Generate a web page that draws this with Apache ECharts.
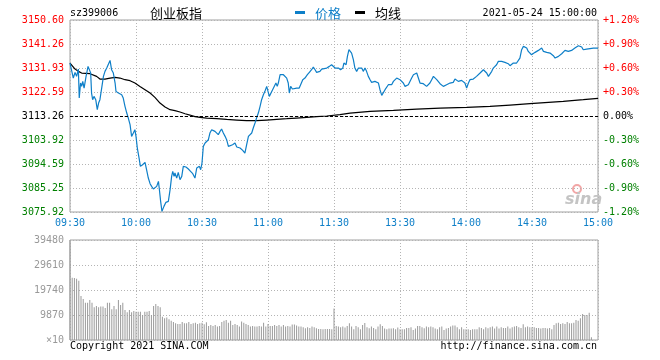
<!DOCTYPE html>
<html><head><meta charset="utf-8">
<script src="https://cdn.jsdelivr.net/npm/echarts@6/dist/echarts.min.js"></script>
<style>html,body{margin:0;padding:0;background:#fff}#c{width:660px;height:360px}</style>
</head><body><div id="c"></div>
<script>
const timeLabels = ['09:30','10:00','10:30','11:00','11:30','13:30','14:00','14:30','15:00'];
const priceTickLabels = ['3075.92','3085.25','3094.59','3103.92','3113.26','3122.59','3131.93','3141.26','3150.60'];
const pctTickLabels = ['-1.20%','-0.90%','-0.60%','-0.30%','0.00%','+0.30%','+0.60%','+0.90%','+1.20%'];
const volTickLabels = ['\u00d710','9870','19740','29610','39480'];
const prevClose = 3113.26;
const priceMin = 3075.92, priceMax = 3150.60, priceStep = 9.335;
const volMax = 39480, volStep = 9870;

// minutes since 09:30 (lunch break removed) and index price
const priceMinutes = [0,1.5,2.3,3.0,3.8,4.2,4.8,5.3,5.8,6.4,7.3,8.2,8.8,9.4,9.8,10.3,10.9,11.7,12.4,13.0,13.6,14.4,15.2,15.9,16.7,17.4,18.2,18.9,19.7,20.5,20.9,22.0,23.5,24.2,25.0,25.8,26.5,27.3,28.0,28.8,29.5,30.0,30.6,31.4,32.0,33.0,34.1,34.8,35.6,36.4,37.1,37.9,38.6,39.4,40.2,40.6,41.2,41.8,42.7,43.6,44.7,45.5,46.2,46.7,47.3,47.7,48.5,49.2,50.0,50.8,51.5,52.7,53.8,54.8,55.8,56.8,57.6,58.8,59.4,60.0,60.6,61.4,62.1,62.9,63.6,64.4,65.2,65.9,66.7,67.4,68.2,68.9,69.7,70.5,71.2,72.0,72.7,73.9,75.0,75.8,77.3,78.5,79.5,80.3,81.1,81.8,82.6,83.3,84.1,84.8,85.6,86.4,87.1,87.9,88.6,89.4,90.2,90.6,91.2,92.1,92.7,93.6,94.2,94.7,95.5,96.2,97.0,97.7,98.5,99.2,99.7,100.3,101.1,102.0,103.0,104.2,104.8,105.8,106.8,107.9,108.8,109.8,110.6,111.4,112.1,112.9,113.6,114.4,115.2,116.7,117.9,118.9,119.7,120.5,121.2,122.0,123.0,124.0,124.5,125.5,126.1,126.8,127.3,128.0,128.8,129.5,130.3,131.1,131.8,132.6,133.3,134.1,134.8,135.6,136.4,137.1,137.9,138.6,139.4,140.2,140.9,141.7,142.4,143.2,143.9,144.7,145.5,146.2,147.0,147.7,148.5,149.2,150.0,150.8,151.5,152.3,153.0,153.8,154.5,155.3,156.1,156.8,157.6,158.3,159.1,159.8,160.6,161.4,162.1,162.9,163.6,164.4,165.2,165.9,166.7,167.4,168.2,168.9,169.7,170.5,171.2,172.0,172.7,173.5,174.2,175.0,175.8,176.5,177.3,178.0,178.8,179.5,180.3,181.1,181.8,182.6,183.3,184.1,184.8,185.6,186.4,187.1,187.9,188.6,189.4,190.2,190.9,191.7,192.4,193.2,193.9,194.7,195.5,196.2,197.0,197.7,198.5,199.2,200.0,200.8,201.5,202.3,203.0,203.8,204.5,205.3,206.1,206.8,207.6,208.3,209.1,209.8,210.6,211.4,212.1,212.9,213.6,214.4,215.2,215.9,216.7,217.4,218.2,218.9,219.7,220.5,221.2,222.0,222.7,223.5,224.2,225.0,225.8,226.5,227.3,228.0,228.8,229.5,230.3,231.1,231.8,232.6,233.3,234.1,234.8,235.6,237.9,240.0];
const prices = [3133.86,3128.02,3130.23,3128.67,3131.52,3120.25,3126.08,3124.78,3126.73,3124.13,3128.67,3132.56,3132.56,3129.97,3122.19,3119.60,3120.89,3119.60,3115.71,3118.30,3119.60,3124.13,3128.67,3130.62,3131.91,3132.56,3134.89,3131.26,3129.97,3126.08,3122.84,3122.19,3121.54,3120.25,3117.01,3114.41,3112.47,3109.88,3105.34,3106.63,3107.93,3105.34,3100.80,3096.91,3093.67,3094.32,3095.23,3092.38,3089.13,3086.93,3085.89,3084.86,3084.60,3085.89,3087.84,3084.86,3080.06,3076.17,3078.11,3079.67,3080.06,3084.60,3089.78,3091.73,3089.78,3091.08,3089.13,3091.34,3088.49,3089.78,3093.67,3093.41,3092.64,3091.73,3090.82,3089.13,3093.02,3093.67,3092.38,3094.97,3101.45,3102.75,3102.10,3104.04,3106.63,3107.93,3108.19,3107.28,3106.63,3105.99,3107.28,3108.19,3106.63,3105.34,3104.04,3101.45,3102.10,3102.10,3102.75,3101.19,3100.80,3099.89,3098.86,3102.10,3105.34,3105.99,3106.63,3108.58,3110.52,3112.47,3114.41,3117.01,3119.60,3121.54,3122.84,3124.78,3125.43,3120.89,3121.54,3123.49,3122.84,3126.08,3124.78,3126.08,3129.32,3129.32,3129.32,3128.67,3128.02,3126.08,3122.19,3124.78,3123.75,3124.52,3124.13,3124.13,3124.78,3127.38,3128.02,3129.32,3130.23,3131.26,3132.30,3131.26,3130.23,3129.97,3130.62,3131.52,3131.91,3131.91,3132.56,3133.21,3132.56,3131.91,3132.56,3131.91,3131.26,3131.91,3133.86,3133.21,3136.45,3139.04,3139.69,3137.75,3135.15,3131.91,3130.62,3131.91,3132.56,3131.91,3130.62,3131.91,3130.62,3128.67,3127.38,3126.34,3126.08,3126.73,3127.38,3126.08,3123.49,3121.28,3120.89,3123.49,3124.13,3125.43,3126.08,3125.43,3126.73,3126.73,3128.02,3127.38,3127.38,3126.73,3126.08,3124.78,3125.43,3125.43,3126.08,3128.02,3129.32,3129.32,3129.97,3129.97,3126.08,3125.69,3125.82,3125.43,3124.78,3125.43,3126.08,3127.38,3128.67,3128.28,3127.38,3126.73,3125.82,3125.43,3124.78,3124.13,3125.43,3126.08,3126.08,3125.69,3126.34,3127.63,3127.38,3126.73,3126.73,3127.12,3126.73,3126.08,3124.13,3126.08,3127.38,3127.63,3127.63,3128.02,3128.67,3129.32,3129.97,3130.62,3131.26,3131.52,3129.97,3128.67,3129.32,3130.62,3131.91,3132.30,3133.21,3134.51,3134.89,3134.51,3134.51,3134.12,3133.86,3133.60,3132.82,3133.21,3133.86,3134.12,3133.86,3134.89,3135.80,3139.04,3140.34,3140.60,3139.69,3138.39,3139.04,3137.10,3137.75,3138.01,3138.39,3138.78,3139.04,3139.69,3138.39,3138.01,3138.01,3138.01,3137.75,3137.49,3136.71,3135.80,3136.45,3136.45,3136.71,3137.49,3137.75,3138.78,3138.78,3138.39,3138.78,3138.78,3139.30,3139.69,3140.08,3140.60,3140.99,3140.08,3139.04,3138.78,3139.30,3139.69,3139.69,3139.69];

const avgMinutes = [0,2.3,3.8,5.3,9.1,12.1,13.6,15.9,18.2,20.5,22.7,25.0,27.3,29.5,31.8,34.1,36.4,38.6,40.9,43.2,45.5,47.7,50.0,52.3,54.5,56.8,59.1,62.1,66.7,71.2,75.8,80.3,84.8,89.4,93.9,98.5,103.0,107.6,112.1,116.7,122.7,127.3,136.4,147.0,157.6,168.2,180.3,190.9,200.0,209.1,224.2,233.3,240.0];
const avgPrices = [3133.86,3131.52,3130.62,3129.97,3129.71,3128.67,3127.63,3127.63,3128.02,3128.28,3128.02,3127.38,3126.99,3126.08,3124.78,3123.49,3122.19,3120.50,3118.30,3116.75,3115.71,3115.32,3114.80,3114.15,3113.63,3112.99,3112.73,3112.47,3112.21,3111.95,3111.69,3111.43,3111.43,3111.69,3111.95,3112.21,3112.47,3112.73,3112.99,3113.25,3113.76,3114.41,3115.06,3115.45,3115.97,3116.36,3116.62,3117.01,3117.52,3118.04,3118.95,3119.60,3120.12];

// per-minute volume, 241 bars (09:30 .. 15:00)
const volumes = [39480,24600,24500,24200,23400,17400,16200,14700,14700,15800,14700,
12900,13400,12900,13200,13200,12600,
14700,14700,12100,13400,12100,15800,13800,14700,
11800,11000,11800,11000,11400,11200,11200,11200,9900,11200,11200,11400,9900,
13400,14200,13400,12900,
9200,8600,8900,8200,
7600,7100,6600,6300,6300,7100,6600,6600,7100,6300,
6600,6800,6300,6600,6800,6200,7000,5500,5900,5500,
5900,5300,5500,7100,7600,7900,6800,7600,5900,6300,
5900,5300,7300,6800,6300,5900,5300,5500,5300,5300,
5500,5300,6800,5300,6300,5500,5500,5900,5500,5900,
5300,5900,5300,5500,5300,6100,6100,5700,5300,5300,
5000,4600,5000,4700,5300,5000,4600,4300,4300,4200,
4300,4300,4300,4200,12400,
5500,5300,5000,5300,4900,5500,6600,
5300,4200,5500,5000,4200,5900,6700,
5000,4600,5300,4700,4200,5300,6200,5500,
4500,4200,4500,4500,4600,4200,4900,4200,
4200,4200,4700,4700,5000,3900,4500,5500,5500,
5000,4600,5300,5000,
5300,5000,4500,4200,5000,5300,
3900,4500,4700,5300,5700,5700,
5000,4200,5000,4200,4200,
4200,3900,4200,4200,4200,5000,4700,4200,5000,
4600,5000,5300,4500,5300,4500,5000,4700,4700,5300,4500,
5000,5300,5500,5000,4700,6200,5000,5300,5000,
5000,5000,4700,4700,4500,4700,4700,4500,4700,4200,
5900,6600,6800,6300,6600,
6300,7100,6600,6600,6800,
7900,7600,8600,10300,9900,9900,10800,1100,0,0,0];

const MONO = 'DejaVu Sans Mono';
const CJK = 'Noto Sans CJK SC';
const BLUE = '#0e7fc8';
const RED = '#ff0000';
const GREEN = '#008000';
const GRIDC = '#b4b4b4';

const pricePts = priceMinutes.map((m, i) => [m, prices[i]]);
const avgPts = avgMinutes.map((m, i) => [m, avgPrices[i]]);
const volPts = volumes.map((v, i) => [i, v]);

const tickIdx = v => Math.round((parseFloat(v) - priceMin) / priceStep);
const tickColor = v => { const k = tickIdx(v); return k > 4 ? RED : (k < 4 ? GREEN : '#000'); };

function txt(x, y, text, font, fill, align) {
  return { type: 'text', x: x, y: y, silent: true,
    style: { text: text, font: font, fill: fill, align: align || 'left', textAlign: align || 'left',
      verticalAlign: 'middle', textVerticalAlign: 'middle' } };
}

const chart = echarts.init(document.getElementById('c'), null, { renderer: 'canvas' });
chart.setOption({
  animation: false,
  backgroundColor: '#fff',
  grid: [
    { left: 70, top: 20, width: 528, height: 192, show: true, borderColor: '#a0a0a0', borderWidth: 1, backgroundColor: 'transparent' },
    { left: 70, top: 240, width: 528, height: 100, show: true, borderColor: '#a0a0a0', borderWidth: 1, backgroundColor: 'transparent' }
  ],
  xAxis: [
    { type: 'value', gridIndex: 0, min: 0, max: 240, interval: 30,
      axisLine: { show: false }, axisTick: { show: false },
      axisLabel: { margin: 6, color: BLUE, fontFamily: MONO, fontSize: 10,
        formatter: v => timeLabels[Math.round(v / 30)] },
      splitLine: { show: true, lineStyle: { color: GRIDC, type: [1, 2], width: 1 } } },
    { type: 'value', gridIndex: 1, min: 0, max: 240, interval: 30,
      axisLine: { show: false }, axisTick: { show: false }, axisLabel: { show: false },
      splitLine: { show: true, lineStyle: { color: GRIDC, type: [1, 2], width: 1 } } }
  ],
  yAxis: [
    { type: 'value', gridIndex: 0, position: 'left', min: priceMin, max: priceMax, interval: priceStep,
      axisLine: { show: false }, axisTick: { show: false },
      axisLabel: { margin: 6, fontFamily: MONO, fontSize: 10, color: v => tickColor(v),
        formatter: v => priceTickLabels[tickIdx(v)] },
      splitLine: { show: true, lineStyle: { color: GRIDC, type: [1, 2], width: 1 } } },
    { type: 'value', gridIndex: 0, position: 'right', min: priceMin, max: priceMax, interval: priceStep,
      axisLine: { show: false }, axisTick: { show: false },
      axisLabel: { margin: 5, fontFamily: MONO, fontSize: 10, color: v => tickColor(v),
        formatter: v => pctTickLabels[tickIdx(v)] },
      splitLine: { show: false } },
    { type: 'value', gridIndex: 1, position: 'left', min: 0, max: volMax, interval: volStep,
      axisLine: { show: false }, axisTick: { show: false },
      axisLabel: { margin: 6, fontFamily: MONO, fontSize: 10, color: '#999',
        formatter: v => volTickLabels[Math.round(v / volStep)] },
      splitLine: { show: true, lineStyle: { color: GRIDC, type: [1, 2], width: 1 } } }
  ],
  series: [
    { name: '均线', type: 'line', xAxisIndex: 0, yAxisIndex: 0, data: avgPts, showSymbol: false, symbol: 'none',
      lineStyle: { color: '#000', width: 1.2 }, silent: true },
    { name: '价格', type: 'line', xAxisIndex: 0, yAxisIndex: 0, data: pricePts, showSymbol: false, symbol: 'none',
      lineStyle: { color: BLUE, width: 1.2 }, silent: true,
      markLine: { silent: true, symbol: ['none', 'none'], label: { show: false },
        lineStyle: { color: '#000', type: [3, 2], width: 1 }, data: [{ yAxis: prevClose }] } },
    { name: 'vol', type: 'bar', xAxisIndex: 1, yAxisIndex: 2, data: volPts, barWidth: 1,
      itemStyle: { color: '#9a9a9a' }, silent: true }
  ],
  graphic: [
    txt(70, 13, 'sz399006', '10px ' + MONO, '#000'),
    txt(150, 13, '创业板指', '13px "' + CJK + '"', '#000'),
    { type: 'rect', shape: { x: 295, y: 11, width: 10, height: 3 }, style: { fill: BLUE }, silent: true },
    txt(315, 13, '价格', '13px "' + CJK + '"', BLUE),
    { type: 'rect', shape: { x: 355, y: 11, width: 10, height: 3 }, style: { fill: '#000' }, silent: true },
    txt(375, 13, '均线', '13px "' + CJK + '"', '#000'),
    txt(597, 13, '2021-05-24 15:00:00', '10px ' + MONO, '#000', 'right'),
    txt(70, 346, 'Copyright 2021 SINA.COM', '10px ' + MONO, '#000'),
    txt(597, 346, 'http://finance.sina.com.cn', '10px ' + MONO, '#000', 'right'),
    { type: 'circle', shape: { cx: 577, cy: 189, r: 4 }, style: { fill: 'none', stroke: '#f2a6a6', lineWidth: 2 }, silent: true },
    txt(565, 200, 'sina', 'italic bold 16px "DejaVu Sans"', '#c4c4c4')
  ]
});
</script></body></html>
